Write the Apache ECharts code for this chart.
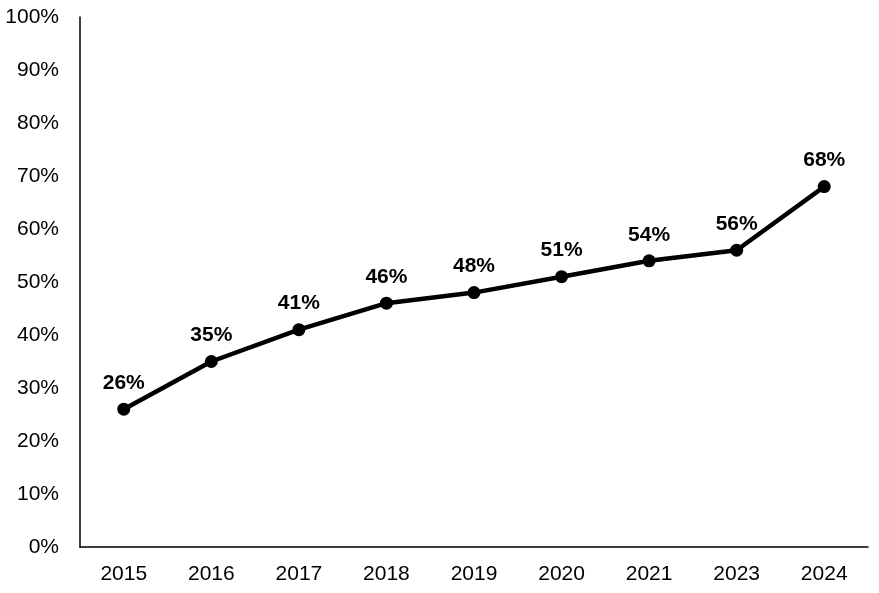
<!DOCTYPE html>
<html>
<head>
<meta charset="utf-8">
<script src="https://cdn.jsdelivr.net/npm/echarts@6/dist/echarts.min.js"></script>
<style>
  html, body { margin: 0; padding: 0; background: #fff; }
  #chart { width: 879px; height: 593px; }
</style>
</head>
<body>
<div id="chart"></div>
<script>
var years = ['2015', '2016', '2017', '2018', '2019', '2020', '2021', '2023', '2024'];
var shares = [26, 35, 41, 46, 48, 51, 54, 56, 68];
var yTicks = [0, 10, 20, 30, 40, 50, 60, 70, 80, 90, 100];

var chart = echarts.init(document.getElementById('chart'));
var fontFamily = '"Liberation Sans", Arial, sans-serif';

var option = {
    animation: false,
    backgroundColor: '#ffffff',
    grid: {
        left: 80,
        right: 11,
        top: 17,
        bottom: 46
    },
    xAxis: {
        type: 'category',
        data: years,
        boundaryGap: true,
        axisLine: { lineStyle: { color: '#000', width: 1.5 } },
        axisTick: { show: false },
        axisLabel: {
            color: '#000',
            fontSize: 21,
            fontFamily: fontFamily,
            margin: 17
        }
    },
    yAxis: {
        type: 'value',
        min: yTicks[0],
        max: yTicks[yTicks.length - 1],
        interval: 10,
        splitLine: { show: false },
        axisLine: { show: true, lineStyle: { color: '#000', width: 1.5 } },
        axisTick: { show: false },
        axisLabel: {
            color: '#000',
            fontSize: 21,
            fontFamily: fontFamily,
            margin: 21,
            formatter: '{value}%'
        }
    },
    series: [{
        type: 'line',
        data: shares,
        symbol: 'circle',
        symbolSize: 13,
        lineStyle: { color: '#000', width: 4.5 },
        itemStyle: { color: '#000' },
        label: {
            show: true,
            position: 'top',
            distance: 9,
            color: '#000',
            fontSize: 21,
            fontWeight: 'bold',
            fontFamily: fontFamily,
            formatter: '{c}%'
        }
    }]
};
chart.setOption(option);
</script>
</body>
</html>
